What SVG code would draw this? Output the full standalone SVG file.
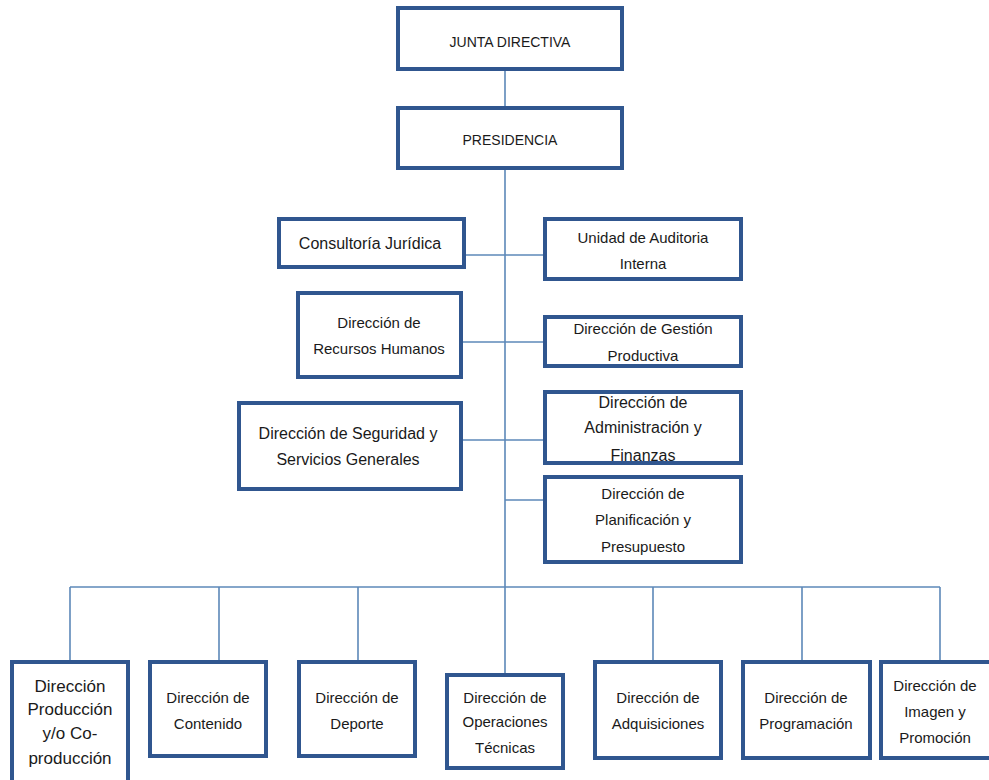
<svg xmlns="http://www.w3.org/2000/svg" width="989" height="780" viewBox="0 0 989 780">
<style>
.box{fill:#ffffff;stroke:#30568f;stroke-width:4}
.conn{stroke:#5c88b8;stroke-width:1.6;fill:none}
text{font-family:"Liberation Sans",Arial,sans-serif;fill:#1a1a1a;text-anchor:middle;dominant-baseline:central}
.s14{font-size:14px}.s15{font-size:15px}.s16{font-size:16px}.s17{font-size:17px}
</style>
<rect width="989" height="780" fill="#ffffff"/>
<g id="connectors">
<line class="conn" x1="505" y1="71" x2="505" y2="106"/>
<line class="conn" x1="505" y1="170" x2="505" y2="587"/>
<line class="conn" x1="466" y1="255" x2="543" y2="255"/>
<line class="conn" x1="463" y1="342" x2="543" y2="342"/>
<line class="conn" x1="463" y1="440" x2="543" y2="440"/>
<line class="conn" x1="505" y1="500" x2="543" y2="500"/>
<line class="conn" x1="70" y1="587" x2="940" y2="587"/>
<line class="conn" x1="70" y1="587" x2="70" y2="660"/>
<line class="conn" x1="219" y1="587" x2="219" y2="660"/>
<line class="conn" x1="358" y1="587" x2="358" y2="660"/>
<line class="conn" x1="505" y1="587" x2="505" y2="673"/>
<line class="conn" x1="653" y1="587" x2="653" y2="660"/>
<line class="conn" x1="802" y1="587" x2="802" y2="660"/>
<line class="conn" x1="940" y1="587" x2="940" y2="660"/>
</g>
<g id="junta">
<rect class="box" x="398" y="8" width="224" height="61"/>
<text class="s14" x="510" y="42">JUNTA DIRECTIVA</text>
</g>
<g id="presidencia">
<rect class="box" x="398" y="108" width="224" height="60"/>
<text class="s14" x="510" y="140">PRESIDENCIA</text>
</g>
<g id="consultoria">
<rect class="box" x="279" y="219" width="185" height="48"/>
<text class="s16" x="370" y="243">Consultoría Jurídica</text>
</g>
<g id="auditoria">
<rect class="box" x="545" y="219" width="196" height="60"/>
<text class="s15" x="643" y="237">Unidad de Auditoria</text>
<text class="s15" x="643" y="263">Interna</text>
</g>
<g id="rrhh">
<rect class="box" x="298" y="293" width="163" height="84"/>
<text class="s15" x="379" y="322">Dirección de</text>
<text class="s15" x="379" y="348">Recursos Humanos</text>
</g>
<g id="gestion">
<rect class="box" x="545" y="317" width="196" height="49"/>
<text class="s15" x="643" y="328">Dirección de Gestión</text>
<text class="s15" x="643" y="355">Productiva</text>
</g>
<g id="seguridad">
<rect class="box" x="239" y="403" width="222" height="86"/>
<text class="s16" x="348" y="433">Dirección de Seguridad y</text>
<text class="s16" x="348" y="459">Servicios Generales</text>
</g>
<g id="administracion">
<rect class="box" x="545" y="392" width="196" height="71"/>
<text class="s16" x="643" y="402">Dirección de</text>
<text class="s16" x="643" y="427">Administración y</text>
<text class="s16" x="643" y="455">Finanzas</text>
</g>
<g id="planificacion">
<rect class="box" x="545" y="477" width="196" height="85"/>
<text class="s15" x="643" y="493">Dirección de</text>
<text class="s15" x="643" y="519">Planificación y</text>
<text class="s15" x="643" y="546">Presupuesto</text>
</g>
<g id="produccion">
<rect class="box" x="12" y="662" width="116" height="130"/>
<text class="s17" x="70" y="686">Dirección</text>
<text class="s17" x="70" y="709">Producción</text>
<text class="s17" x="70" y="733">y/o Co-</text>
<text class="s17" x="70" y="758">producción</text>
</g>
<g id="contenido">
<rect class="box" x="150" y="662" width="116" height="94"/>
<text class="s15" x="208" y="697">Dirección de</text>
<text class="s15" x="208" y="723">Contenido</text>
</g>
<g id="deporte">
<rect class="box" x="299" y="662" width="116" height="94"/>
<text class="s15" x="357" y="697">Dirección de</text>
<text class="s15" x="357" y="723">Deporte</text>
</g>
<g id="operaciones">
<rect class="box" x="447" y="675" width="116" height="93"/>
<text class="s15" x="505" y="697">Dirección de</text>
<text class="s15" x="505" y="721">Operaciones</text>
<text class="s15" x="505" y="747">Técnicas</text>
</g>
<g id="adquisiciones">
<rect class="box" x="595" y="662" width="126" height="96"/>
<text class="s15" x="658" y="697">Dirección de</text>
<text class="s15" x="658" y="723">Adquisiciones</text>
</g>
<g id="programacion">
<rect class="box" x="743" y="662" width="127" height="96"/>
<text class="s15" x="806" y="697">Dirección de</text>
<text class="s15" x="806" y="723">Programación</text>
</g>
<g id="imagen">
<rect class="box" x="881" y="662" width="112" height="96"/>
<text class="s15" x="935" y="685">Dirección de</text>
<text class="s15" x="935" y="711">Imagen y</text>
<text class="s15" x="935" y="737">Promoción</text>
</g>
</svg>
